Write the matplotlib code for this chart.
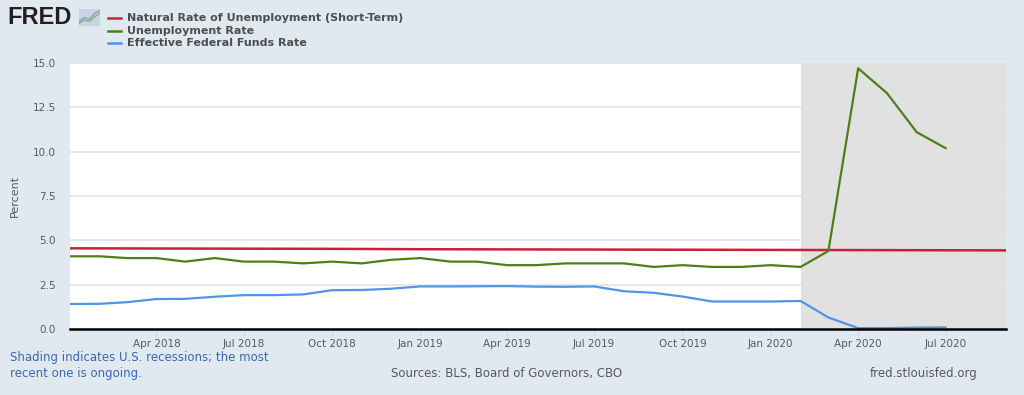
# FRED chart: natural rate of unemployment, unemployment rate, fed funds rate
import matplotlib.pyplot as plt
import matplotlib.dates as mdates
import pandas as pd

# Monthly data, Jan 2018 - Jul 2020
months = pd.date_range('2018-01-01', '2020-07-01', freq='MS')
unrate = [4.1, 4.1, 4.0, 4.0, 3.8, 4.0, 3.8, 3.8, 3.7, 3.8, 3.7, 3.9,
          4.0, 3.8, 3.8, 3.6, 3.6, 3.7, 3.7, 3.7, 3.5, 3.6, 3.5, 3.5,
          3.6, 3.5, 4.4, 14.7, 13.3, 11.1, 10.2]
fedfunds = [1.41, 1.42, 1.51, 1.69, 1.70, 1.82, 1.91, 1.91, 1.95, 2.19, 2.20, 2.27,
            2.40, 2.40, 2.41, 2.42, 2.39, 2.38, 2.40, 2.13, 2.04, 1.83, 1.55, 1.55,
            1.55, 1.58, 0.65, 0.05, 0.05, 0.08, 0.09]

# Quarterly natural rate (short-term), 2018Q1 - 2020Q4
quarters = pd.date_range('2018-01-01', '2020-10-01', freq='QS')
nrou = [4.55, 4.54, 4.53, 4.52, 4.50, 4.49, 4.48, 4.47, 4.46, 4.45, 4.44, 4.43]

recession_start = pd.Timestamp('2020-02-01')
x_start = pd.Timestamp('2018-01-01')
x_end = pd.Timestamp('2020-09-02')

bg = '#e1e9f0'
txt = '#595959'
red = '#cc1f36'
green = '#4d7f17'
blue = '#4f94e6'

fig = plt.figure(figsize=(10.24, 3.95), dpi=100, facecolor=bg)
ax = fig.add_axes([70 / 1024, 1 - 329 / 395, 936 / 1024, 266 / 395])
ax.set_facecolor('white')

ax.axvspan(recession_start, x_end, color='#e1e1e1', zorder=0, lw=0)

ax.plot(quarters, nrou, color=red, lw=1.8, zorder=3)
ax.plot(months, unrate, color=green, lw=1.6, zorder=3)
ax.plot(months, fedfunds, color=blue, lw=1.6, zorder=3)

ax.set_xlim(x_start, x_end)
ax.set_ylim(0, 15)
ax.set_yticks([0, 2.5, 5, 7.5, 10, 12.5, 15])
ax.set_yticklabels(['0.0', '2.5', '5.0', '7.5', '10.0', '12.5', '15.0'])
ax.yaxis.grid(True, color='#e3e3e3', lw=1.2, zorder=1)
ax.set_axisbelow(True)

ticks = list(pd.date_range('2018-04-01', '2020-07-01', freq='QS'))
ax.set_xticks(ticks)
ax.xaxis.set_major_formatter(mdates.DateFormatter('%b %Y'))

for s in ['top', 'right', 'left']:
    ax.spines[s].set_visible(False)
ax.spines['bottom'].set_color('black')
ax.spines['bottom'].set_linewidth(1.8)
ax.spines['bottom'].set_zorder(4)

ax.tick_params(axis='y', length=0, labelsize=7.5, labelcolor=txt, pad=10)
ax.tick_params(axis='x', length=5, color='#ccd6eb', labelsize=7.5, labelcolor=txt, pad=2)
ax.set_ylabel('Percent', fontsize=8, color=txt, labelpad=9)

# Legend
legend_items = [('Natural Rate of Unemployment (Short-Term)', red),
                ('Unemployment Rate', green),
                ('Effective Federal Funds Rate', blue)]
for i, (label, c) in enumerate(legend_items):
    y = 1 - (18 + i * 12.5) / 395
    fig.add_artist(plt.Line2D([108 / 1024, 121 / 1024], [y, y], color=c, lw=1.8))
    fig.text(127 / 1024, y, label, fontsize=8, color='#333333', va='center',
             fontweight='bold', alpha=0.85)

# FRED logo
fig.text(7 / 1024, 1 - 17 / 395, 'FRED', fontsize=17, fontweight='bold',
         color='#231f20', va='center', family='Liberation Sans')
logo = fig.add_axes([79 / 1024, 1 - 26 / 395, 21 / 1024, 17 / 395])
logo.set_facecolor('#c8d4e0')
logo.plot([0, 1, 2, 3, 4], [1, 2, 1.6, 3, 3.6], color='#6a9fd0', lw=0.9)
logo.plot([0, 1, 2, 3, 4], [0.6, 1.4, 1.1, 2.2, 3.0], color='#8bb04c', lw=0.9)
logo.set_xlim(0, 4)
logo.set_ylim(0, 4)
logo.set_xticks([])
logo.set_yticks([])
for s in logo.spines.values():
    s.set_visible(False)

# Footer
fig.text(10 / 1024, 1 - 357 / 395, 'Shading indicates U.S. recessions; the most',
         fontsize=8.5, color='#3a68b0', va='center')
fig.text(10 / 1024, 1 - 374 / 395, 'recent one is ongoing.',
         fontsize=8.5, color='#3a68b0', va='center')
fig.text(507 / 1024, 1 - 373 / 395, 'Sources: BLS, Board of Governors, CBO',
         fontsize=8.5, color=txt, va='center', ha='center')
fig.text(978 / 1024, 1 - 373 / 395, 'fred.stlouisfed.org',
         fontsize=8.5, color=txt, va='center', ha='right')

fig.savefig('out.png', dpi=100, facecolor=bg)
